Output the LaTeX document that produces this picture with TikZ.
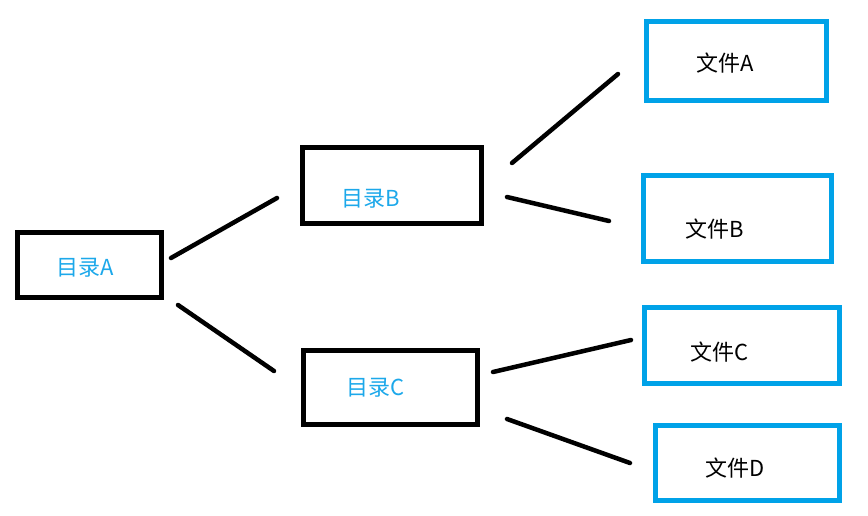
\documentclass[tikz,border=0pt]{standalone}
\usepackage{fontspec}
\newfontfamily\cjk{Noto Sans CJK SC}
\usepackage{tikz}
\usetikzlibrary{positioning}
\usepackage{xcolor}
\definecolor{fileblue}{RGB}{0,162,232}
\definecolor{dirtext}{RGB}{28,168,234}

\begin{document}
\begin{tikzpicture}[x=1pt,y=-1pt,
  dirbox/.style={rectangle,draw=black,line width=5pt,inner sep=0pt},
  filebox/.style={rectangle,draw=fileblue,line width=5pt,inner sep=0pt},
  every label/.style={font=\cjk\fontsize{22}{26}\selectfont,inner sep=0pt},
  link/.style={black,line width=4.5pt,line cap=round}]
\useasboundingbox (0,0) rectangle (868,516);
% directories
\node[dirbox,minimum width=143.5pt,minimum height=65pt,
      label={[xshift=-4pt,yshift=-3.5pt,text=dirtext]center:目录A}] (dirA) at (89.25,264.5) {};
\node[dirbox,minimum width=179pt,minimum height=75pt,
      label={[xshift=-20.5pt,yshift=-13.5pt,text=dirtext]center:目录B}] (dirB) at (391.5,185.5) {};
\node[dirbox,minimum width=174pt,minimum height=74pt,
      label={[xshift=-14pt,yshift=-1pt,text=dirtext]center:目录C}] (dirC) at (390,387) {};
% files
\node[filebox,minimum width=180pt,minimum height=79pt,
      label={[xshift=-11pt,yshift=-1.5pt]center:文件A}] (fileA) at (736,61.5) {};
\node[filebox,minimum width=188pt,minimum height=85pt,
      label={[xshift=-22pt,yshift=-10.5pt]center:文件B}] (fileB) at (737,218.5) {};
\node[filebox,minimum width=195pt,minimum height=76pt,
      label={[xshift=-21.5pt,yshift=-7pt]center:文件C}] (fileC) at (741.5,345) {};
\node[filebox,minimum width=184pt,minimum height=75pt,
      label={[xshift=-12pt,yshift=-5.5pt]center:文件D}] (fileD) at (747,462.5) {};
% line ends
\coordinate (AtoB) at (171,258);   \coordinate (BfromA) at (277,198);
\coordinate (AtoC) at (178,305);   \coordinate (CfromA) at (274,371);
\coordinate (BtoFA) at (512,163);  \coordinate (FAfromB) at (618,74);
\coordinate (BtoFB) at (507,197);  \coordinate (FBfromB) at (609,221);
\coordinate (CtoFC) at (493,372);  \coordinate (FCfromC) at (631,340);
\coordinate (CtoFD) at (507,419);  \coordinate (FDfromC) at (630,463);
\draw[link] (AtoB) -- (BfromA);
\draw[link] (AtoC) -- (CfromA);
\draw[link] (BtoFA) -- (FAfromB);
\draw[link] (BtoFB) -- (FBfromB);
\draw[link] (CtoFC) -- (FCfromC);
\draw[link] (CtoFD) -- (FDfromC);
\end{tikzpicture}
\end{document}
